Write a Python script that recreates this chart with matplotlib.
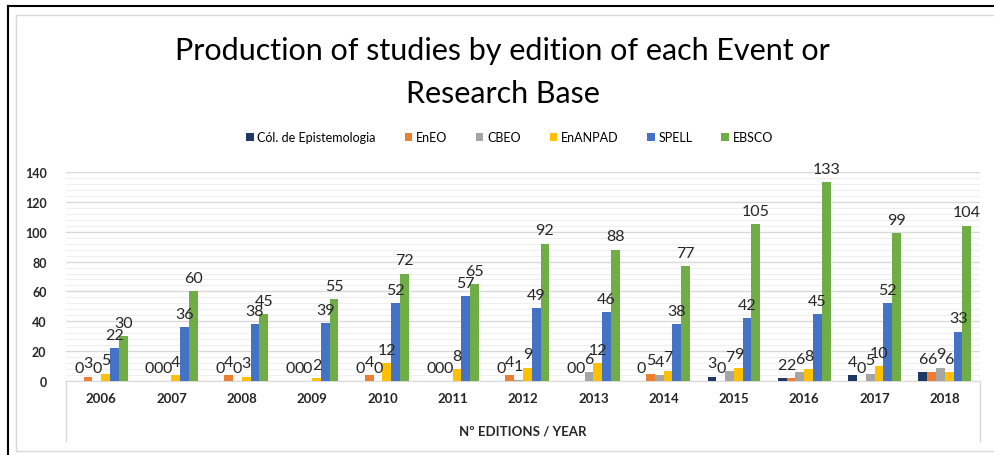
import numpy as np
import matplotlib
matplotlib.use('Agg')
import matplotlib.pyplot as plt
from matplotlib.patches import Patch
from matplotlib.lines import Line2D

# Data.
years = ['2006', '2007', '2008', '2009', '2010', '2011', '2012',
         '2013', '2014', '2015', '2016', '2017', '2018']
series_names = ['Cól. de Epistemologia', 'EnEO', 'CBEO', 'EnANPAD', 'SPELL', 'EBSCO']
col_epist = [0, 0, 0, 0, 0, 0, 0, 0, 0, 3, 2, 4, 6]
eneo = [3, 0, 4, 0, 4, 0, 4, 0, 5, 0, 2, 0, 6]
cbeo = [0, 0, 0, 0, 0, 0, 1, 6, 4, 7, 6, 5, 9]
enanpad = [5, 4, 3, 2, 12, 8, 9, 12, 7, 9, 8, 10, 6]
spell = [22, 36, 38, 39, 52, 57, 49, 46, 38, 42, 45, 52, 33]
ebsco = [30, 60, 45, 55, 72, 65, 92, 88, 77, 105, 133, 99, 104]
colors = ['#1F3864', '#ED7D31', '#A5A5A5', '#FFC000', '#4472C4', '#70AD47']

plt.rcParams['font.family'] = ['Lato', 'DejaVu Sans']

fig = plt.figure(figsize=(9.95, 4.56), dpi=100)
ax = fig.add_axes([66/995, 1 - 382/456, (980 - 66)/995, (382 - 173)/456])

x = np.arange(len(years))
width = 0.125
all_series = [col_epist, eneo, cbeo, enanpad, spell, ebsco]
for i, vals in enumerate(all_series):
    pos = x + (i - 2.5) * width
    ax.bar(pos, vals, width=width, color=colors[i], zorder=3)
    # data labels above each bar, kept on top of all bars
    for px, v in zip(pos, vals):
        ax.annotate(str(v), (px, v), xytext=(0, 4.5), textcoords='offset points',
                    ha='center', va='bottom', fontsize=11.5, color='#262626', zorder=6)

ax.set_ylim(0, 140)
ax.set_xlim(-0.5, len(years) - 0.5)
ax.set_yticks(np.arange(0, 141, 20))
ax.set_yticks(np.arange(0, 141, 4), minor=True)
ax.grid(axis='y', which='major', color='#d9d9d9', linewidth=1, zorder=0)
ax.grid(axis='y', which='minor', color='#efefef', linewidth=0.8, zorder=0)
ax.set_xticks(x)
ax.set_xticklabels(years)
ax.tick_params(axis='both', which='both', length=0)
ax.tick_params(axis='y', pad=14, labelsize=9)
ax.tick_params(axis='x', pad=8, labelsize=9.5)
for lbl in ax.get_xticklabels() + ax.get_yticklabels():
    lbl.set_fontweight('bold')
    lbl.set_color('#262626')
for side in ['top', 'right', 'left']:
    ax.spines[side].set_visible(False)
ax.spines['bottom'].set_color('#d9d9d9')
ax.set_xlabel('Nº EDITIONS / YEAR', fontsize=9.5, fontweight='bold', color='#262626', labelpad=15)

# Title and legend
fig.text(0.505, 1 - 51/456, 'Production of studies by edition of each Event or',
         ha='center', va='center', fontsize=22, color='black')
fig.text(0.505, 1 - 94/456, 'Research Base', ha='center', va='center',
         fontsize=22, color='black')
handles = [Patch(facecolor=c, edgecolor='none') for c in colors]
fig.legend(handles, series_names, loc='center', bbox_to_anchor=(0.512, 1 - 138/456),
           ncol=6, frameon=False, fontsize=9, handlelength=0.6, handleheight=0.6,
           handletextpad=0.3, columnspacing=2.3)

# Category axis box and chart borders
for xx in [66, 980]:
    fig.add_artist(Line2D([xx/995, xx/995], [1 - 382/456, 1 - 442/456],
                          color='#d9d9d9', linewidth=1))
fig.add_artist(Line2D([8/995, 8/995], [0, 1 - 7/456], color='black', linewidth=1.5))
fig.add_artist(Line2D([8/995, 1], [1 - 7/456, 1 - 7/456], color='black', linewidth=1.5))
fig.add_artist(Line2D([16/995, 16/995], [1 - 452/456, 1 - 16/456], color='#d9d9d9', linewidth=1))
fig.add_artist(Line2D([16/995, 1], [1 - 16/456, 1 - 16/456], color='#d9d9d9', linewidth=1))
fig.add_artist(Line2D([16/995, 1], [1 - 452/456, 1 - 452/456], color='#d9d9d9', linewidth=1))

fig.savefig('out.png', dpi=100)
plt.close(fig)
